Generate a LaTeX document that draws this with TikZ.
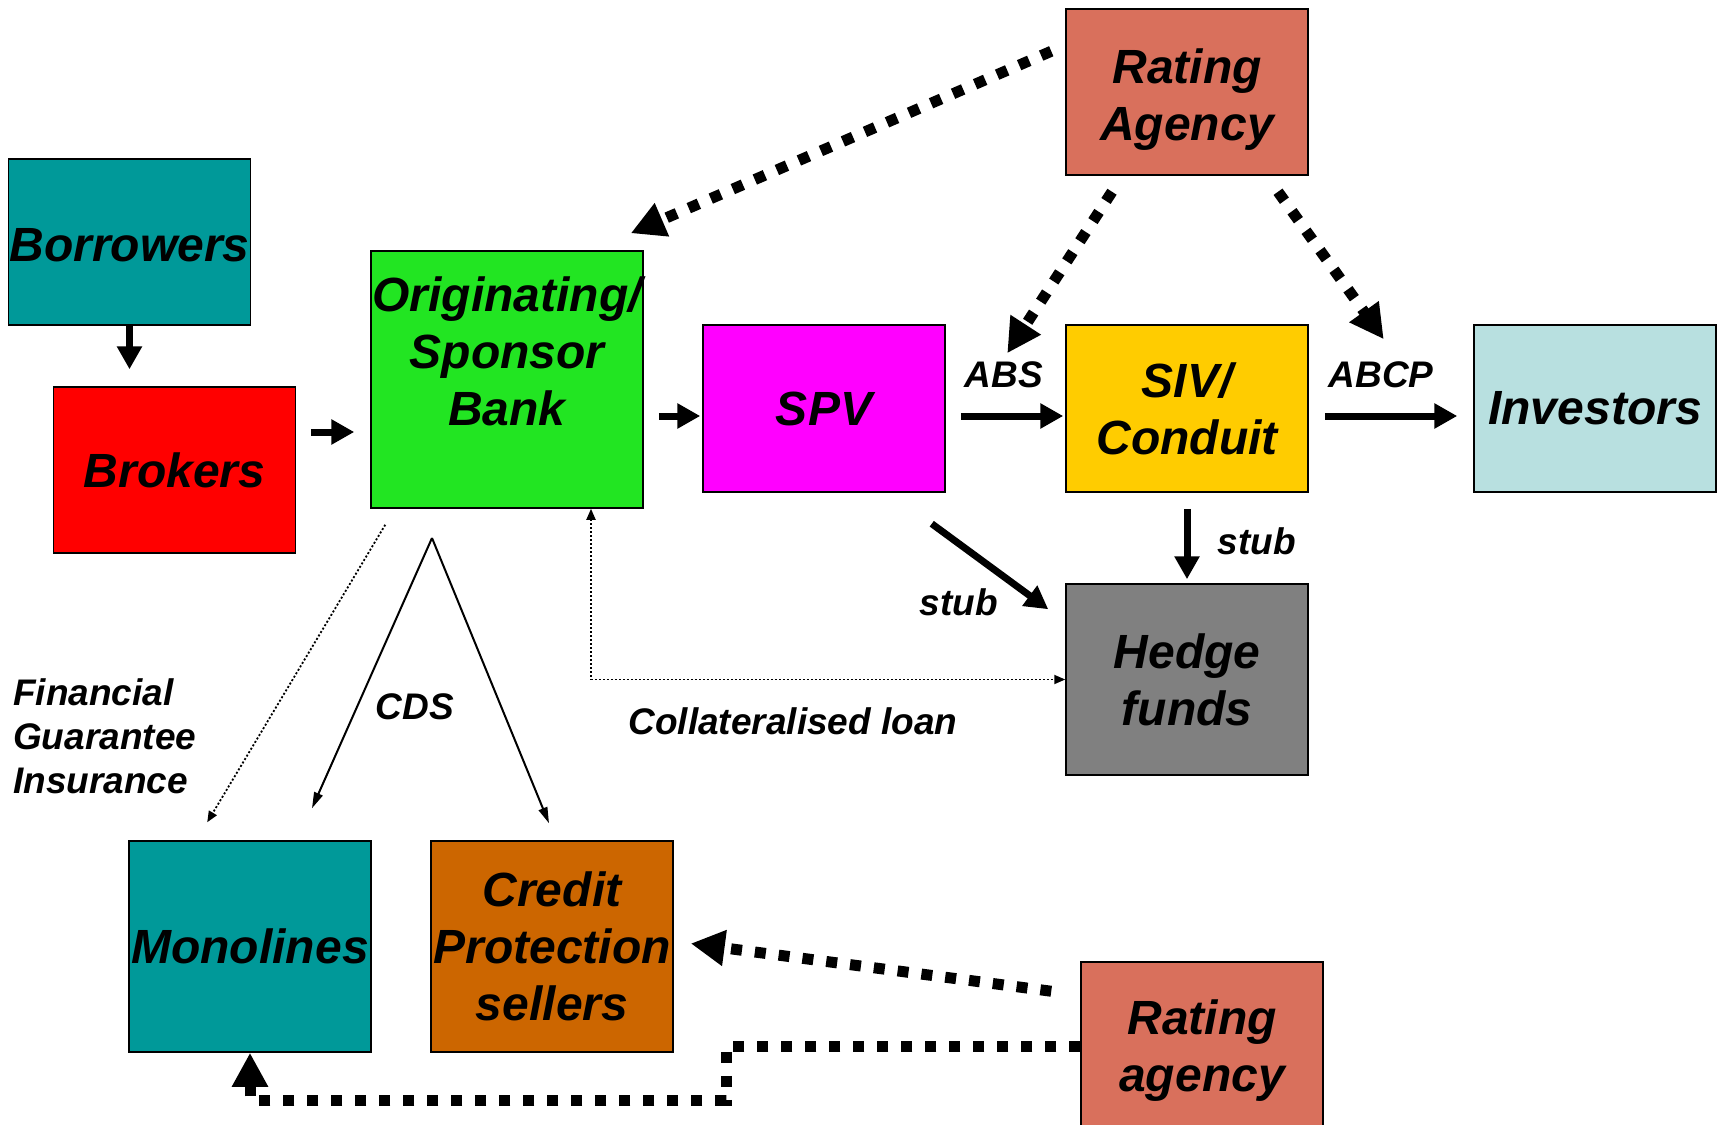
\documentclass[tikz,border=0pt]{standalone}
\usepackage{fontspec}
\setmainfont{Liberation Sans}
\usetikzlibrary{arrows.meta}

\definecolor{borrowteal}{RGB}{0,153,153}
\definecolor{brokerred}{RGB}{255,0,0}
\definecolor{bankgreen}{RGB}{34,229,34}
\definecolor{spvmagenta}{RGB}{255,0,255}
\definecolor{sivyellow}{RGB}{255,204,0}
\definecolor{investblue}{RGB}{184,224,224}
\definecolor{ratingred}{RGB}{217,112,92}
\definecolor{hedgegray}{RGB}{128,128,128}
\definecolor{cpsorange}{RGB}{204,102,0}

\begin{document}
\begin{tikzpicture}[x=1pt, y=-1pt,
    box/.style={draw, line width=1.5pt, inner sep=0pt, align=center,
        minimum width=242, minimum height=166,
        font=\fontsize{48}{57}\selectfont\bfseries\itshape},
    boxtxt/.style={inner sep=0pt, align=center,
        font=\fontsize{48}{57}\selectfont\bfseries\itshape},
    lbl/.style={inner sep=0pt, align=left,
        font=\fontsize{37}{44}\selectfont\bfseries\itshape},
    flow/.style={line width=7pt, -{Triangle[length=23pt,width=24pt]}},
    rate/.style={line width=11pt, dash pattern=on 11pt off 13pt,
        -{Triangle[length=34pt,width=34pt]}},
    hair/.style={line width=1.8pt, dash pattern=on 2pt off 2pt},
    cds/.style={line width=2pt, -{Triangle[length=16pt,width=9pt]}}]
    \useasboundingbox (0,0) rectangle (1723,1124);
    \clip (0,0) rectangle (1723,1124);

    % boxes
    \node [box, fill=borrowteal,
        label={[boxtxt, shift={(0,3)}]center:Borrowers}] (borrowers) at (129.5,242) {};
    \node [box, fill=brokerred] (brokers) at (174.5,470) {Brokers};
    \node [box, fill=bankgreen, minimum width=272, minimum height=257,
        label={[boxtxt, shift={(0,-28)}]center:{Originating/\\Sponsor\\Bank}}] (orig) at (507,379.5) {};
    \node [box, fill=spvmagenta, minimum height=167] (spv) at (824,408.5) {SPV};
    \node [box, fill=sivyellow, minimum height=167] (siv) at (1187,408.5) {SIV/\\Conduit};
    \node [box, fill=investblue, minimum height=167] (inv) at (1595,408.5) {Investors};
    \node [box, fill=ratingred,
        label={[boxtxt, shift={(0,8)}]center:{Rating\\Agency}}] (rta) at (1187,92) {};
    \node [box, fill=hedgegray, minimum height=191] (hedge) at (1187,679.5) {Hedge\\funds};
    \node [box, fill=borrowteal, minimum height=211] (mono) at (250,946.5) {Monolines};
    \node [box, fill=cpsorange, minimum height=211] (cps) at (552,946.5) {Credit\\Protection\\sellers};
    \node [box, fill=ratingred, minimum height=168,
        label={[boxtxt, shift={(0,5)}]center:{Rating\\agency}}] (rtb) at (1202,1046) {};

    \coordinate (brky) at (0,432);
    \coordinate (flowy) at (0,416);
    \coordinate (loanx) at (591,0);
    \coordinate (cdstop) at (432,538);
    \coordinate (bendpt) at (726,1100);

    % main flow
    \draw [flow, shorten >=17] (borrowers.south) -- (borrowers.south |- brokers.north);
    \draw [flow, shorten <=15, shorten >=16] (brokers.east |- brky) -- (orig.west |- brky);
    \draw [flow, shorten <=15, shorten >=2] (orig.east |- flowy) -- (spv.west |- flowy);
    \draw [flow, shorten <=15, shorten >=2] (spv.east |- flowy) -- (siv.west |- flowy);
    \draw [flow, shorten <=16, shorten >=16] (siv.east |- flowy) -- (inv.west |- flowy);
    \draw [flow, shorten <=16, shorten >=4] (siv.south) -- (hedge.north);
    \draw [flow] ([shift={(-14,31)}]spv.south east) -- ([shift={(-17,26)}]hedge.north west);

    % ratings
    \draw [rate] ([shift={(-14,43)}]rta.north west) -- ([shift={(-13,-17)}]orig.north east);
    \draw [rate] ([shift={(-75,16)}]rta.south) -- ([shift={(-58,29)}]siv.north west);
    \draw [rate] ([shift={(91,16)}]rta.south) -- ([shift={(75,15)}]siv.north east);
    \draw [rate] ([shift={(-29,30)}]rtb.north west) -- ([shift={(17,-3)}]cps.east);
    \draw [rate] (rtb.west) -| (bendpt) -| (mono.south);

    % loan, guarantee, CDS
    \draw [hair, {Triangle[length=11pt,width=9pt]}-{Triangle[length=11pt,width=9pt]}]
        (orig.south -| loanx) |- (hedge.west);
    \draw [hair, -{Triangle[length=11pt,width=9pt]}]
        ([shift={(15,16)}]orig.south west) -- ([shift={(79,-18)}]mono.north west);
    \draw [cds] (cdstop) -- ([shift={(62,-32)}]mono.north);
    \draw [cds] (cdstop) -- ([shift={(-3,-17)}]cps.north);

    % labels
    \node [lbl] (abs) at (1004,375) {ABS};
    \node [lbl] (abcp) at (1381,375) {ABCP};
    \node [lbl] (stubsiv) at (1257,541) {stub};
    \node [lbl] (stubspv) at (959,602) {stub};
    \node [lbl] (loan) at (793,721) {Collateralised loan};
    \node [lbl] (cdslbl) at (415,707) {CDS};
    \node [lbl, anchor=west] (fgi) at (13,736) {Financial\\Guarantee\\Insurance};
\end{tikzpicture}
\end{document}
